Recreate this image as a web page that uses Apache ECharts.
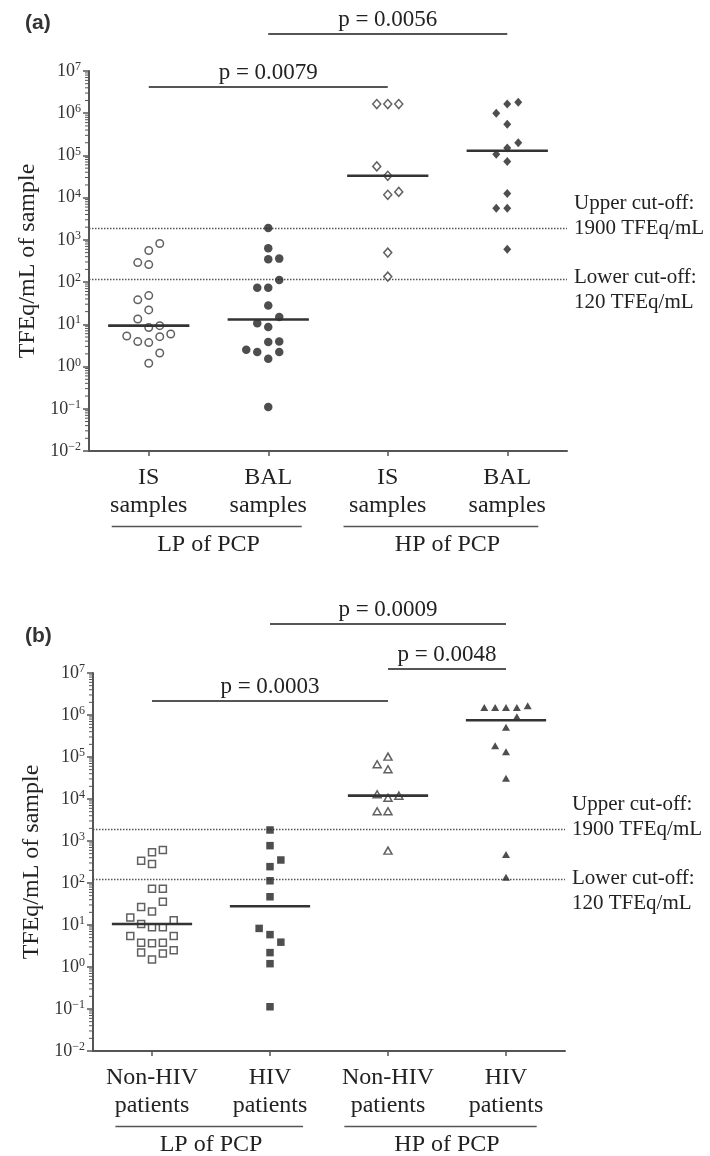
<!DOCTYPE html>
<html><head><meta charset="utf-8">
<script src="https://cdn.jsdelivr.net/npm/echarts@6/dist/echarts.min.js"></script>
<style>html,body{margin:0;padding:0;background:#fff}#c{width:710px;height:1156px}</style>
</head><body><div id="c"></div>
<script>
// ---------- DATA ----------
const categoriesA = ['IS\nsamples', 'BAL\nsamples', 'IS\nsamples', 'BAL\nsamples'];
const categoriesB = ['Non-HIV\npatients', 'HIV\npatients', 'Non-HIV\npatients', 'HIV\npatients'];
const groupLabels = ['LP of PCP', 'HP of PCP'];
const yAxisName = 'TFEq/mL of sample';
const cutoffValues = [1900, 120];
const cutoffLabels = [['Upper cut-off:', '1900 TFEq/mL'], ['Lower cut-off:', '120 TFEq/mL']];
const decadeExponents = [-2, -1, 0, 1, 2, 3, 4, 5, 6];
const minorMultipliers = [2, 3, 4, 5, 6, 7, 8, 9];

// Panel (a)
const aIsLP   = [820, 560, 290, 260, 38, 48, 22, 13.4, 8.4, 9.3, 5.3, 3.9, 3.7, 5.1, 5.9, 2.1, 1.2];
const aIsLPcol = [1, 0, -1, 0, -1, 0, 0, -1, 0, 1, -2, -1, 0, 1, 2, 1, 0];
const aBalLP  = [1900, 635, 350, 360, 112, 74, 74, 28, 15, 10.6, 8.7, 3.8, 3.9, 2.5, 2.2, 2.2, 1.54, 0.11];
const aBalLPcol = [0, 0, 0, 1, 1, -1, 0, 0, 1, -1, 0, 0, 1, -2, -1, 1, 0, 0];
const aIsHP   = [1.65e6, 1.65e6, 1.65e6, 5.5e4, 3.3e4, 1.17e4, 1.37e4, 500, 135];
const aIsHPcol = [-1, 0, 1, -1, 0, 0, 1, 0, 0];
const aBalHP  = [1.83e6, 1.65e6, 1.0e6, 5.5e5, 2.0e5, 1.5e5, 1.07e5, 7.2e4, 1.25e4, 5.6e3, 5.6e3, 600];
const aBalHPcol = [1, 0, -1, 0, 1, 0, -1, 0, 0, -1, 0, 0];
const aMedians = [9.3, 13, 3.3e4, 1.29e5];
const aSigPairs = [[1, 3], [2, 4]];
const aSigLabels = ['p = 0.0079', 'p = 0.0056'];

// Panel (b)
const bNonHivLP = [610, 540, 340, 285, 73, 73, 36, 27, 21, 15, 13, 10.6, 8.8, 8.9, 5.5, 5.5, 3.8, 3.7, 3.8, 2.5, 2.2, 2.1, 1.5];
const bNonHivLPcol = [1, 0, -1, 0, 0, 1, 1, -1, 0, -2, 2, -1, 0, 1, -2, 2, -1, 0, 1, 2, -1, 1, 0];
const bHivLP = [1830, 775, 353, 245, 113, 47, 8.3, 5.9, 3.9, 2.2, 1.2, 0.113];
const bHivLPcol = [0, 0, 1, 0, 0, 0, -1, 0, 1, 0, 0, 0];
const bNonHivHP = [1.02e5, 6.7e4, 5.1e4, 1.3e4, 1.07e4, 1.2e4, 5.1e3, 5.1e3, 590];
const bNonHivHPcol = [0, -1, 0, -1, 0, 1, -1, 0, 0];
const bHivHP = [1.5e6, 1.5e6, 1.5e6, 1.5e6, 1.66e6, 9.1e5, 5.1e5, 1.86e5, 1.34e5, 3.1e4, 480, 137];
const bHivHPcol = [-2, -1, 0, 1, 2, 1, 0, -1, 0, 0, 0, 0];
const bMedians = [10.6, 28, 1.2e4, 7.5e5];
const bSigPairs = [[1, 3], [2, 4], [3, 4]];
const bSigLabels = ['p = 0.0003', 'p = 0.0009', 'p = 0.0048'];

// ---------- LAYOUT / STYLE ----------
const SERIF = '"Liberation Serif","Times New Roman",serif';
const SANS = '"Liberation Sans",Arial,sans-serif';
const AX = '#555', TXT = '#222';
const grids = [
  { left: 89, top: 71, width: 478, height: 380 },
  { left: 93, top: 673, width: 472, height: 378 }
];
const colStep = 0.092;
const medianHalf = 0.34;
const sigOffsets = [[16, -37], [28, -49, -4]];   // px from grid top
const titleTops = [13, 626];
const underlineSpans = [[0.69, 2.28], [2.63, 4.26]];

function pts(vals, cols, g) { return vals.map((v, i) => [g + cols[i] * colStep, v]); }

const openStyle = { color: '#fff', borderColor: '#3a3a3a', borderWidth: 1.5 };
const fillStyle = { color: '#222' };

function scatter(name, data, gi, symbol, size, style, withCut) {
  const s = {
    type: 'scatter', name, data, xAxisIndex: gi * 2 + 1, yAxisIndex: gi,
    symbol, symbolSize: size, itemStyle: style, z: 5, silent: true
  };
  if (withCut) {
    s.markLine = {
      silent: true, symbol: 'none', label: { show: false },
      lineStyle: { type: [1.5, 1.5], color: '#555', width: 1.4 },
      data: cutoffValues.map(v => ({ yAxis: v }))
    };
  }
  return s;
}
function medianSeries(meds, gi) {
  return {
    type: 'custom', xAxisIndex: gi * 2 + 1, yAxisIndex: gi, z: 6, silent: true,
    data: meds.map((m, i) => [i + 1, m]),
    renderItem: (params, api) => {
      const x = api.value(0), y = api.value(1);
      const p1 = api.coord([x - medianHalf, y]), p2 = api.coord([x + medianHalf, y]);
      return { type: 'line', shape: { x1: p1[0], y1: p1[1], x2: p2[0], y2: p2[1] },
               style: { stroke: '#333', lineWidth: 2.6 } };
    }
  };
}

function catAxis(cats, gi) {
  return {
    type: 'category', gridIndex: gi, data: cats, boundaryGap: true, position: 'bottom',
    axisLine: { show: true, lineStyle: { color: AX, width: 2 } },
    axisTick: { show: true, alignWithLabel: true, length: 5, lineStyle: { color: AX, width: 1.5 } },
    axisLabel: { interval: 0, margin: 13, fontSize: 24, lineHeight: 28, fontFamily: SERIF, color: TXT },
    splitLine: { show: false }
  };
}
function valXAxis(gi) {
  return { type: 'value', gridIndex: gi, min: 0.5, max: 4.5, show: false, position: 'bottom' };
}
function logYAxis(gi) {
  return {
    type: 'log', logBase: 10, gridIndex: gi, min: 0.01, max: 1e7, splitNumber: 9,
    name: yAxisName, nameLocation: 'middle', nameGap: 47,
    nameTextStyle: { fontSize: 24, fontFamily: SERIF, color: TXT },
    axisLine: { show: true, lineStyle: { color: AX, width: 2 } },
    axisTick: { show: true, length: 6, lineStyle: { color: AX, width: 1.5 } },
    splitLine: { show: false },
    axisLabel: {
      margin: 8,
      formatter: v => {
        const e = Math.round(Math.log10(v));
        return '{b|10}{s|' + (e < 0 ? '\u2212' + (-e) : e) + '}';
      },
      rich: {
        b: { fontSize: 18, fontFamily: SERIF, color: '#333', lineHeight: 20 },
        s: { fontSize: 12, fontFamily: SERIF, color: '#333', lineHeight: 12, verticalAlign: 'top' }
      }
    }
  };
}

const chart = echarts.init(document.getElementById('c'));
chart.setOption({
  animation: false,
  backgroundColor: '#fff',
  grid: grids.map(g => Object.assign({ containLabel: false }, g)),
  xAxis: [catAxis(categoriesA, 0), valXAxis(0), catAxis(categoriesB, 1), valXAxis(1)],
  yAxis: [logYAxis(0), logYAxis(1)],
  series: [
    scatter('IS LP', pts(aIsLP, aIsLPcol, 1), 0, 'circle', 7.5, openStyle, true),
    scatter('BAL LP', pts(aBalLP, aBalLPcol, 2), 0, 'circle', 8.5, fillStyle),
    scatter('IS HP', pts(aIsHP, aIsHPcol, 3), 0, 'diamond', [8, 9], openStyle),
    scatter('BAL HP', pts(aBalHP, aBalHPcol, 4), 0, 'diamond', [8, 9], fillStyle),
    medianSeries(aMedians, 0),
    scatter('Non-HIV LP', pts(bNonHivLP, bNonHivLPcol, 1), 1, 'rect', 7, openStyle, true),
    scatter('HIV LP', pts(bHivLP, bHivLPcol, 2), 1, 'rect', 7.5, fillStyle),
    scatter('Non-HIV HP', pts(bNonHivHP, bNonHivHPcol, 3), 1, 'triangle', [8, 7], openStyle),
    scatter('HIV HP', pts(bHivHP, bHivHPcol, 4), 1, 'triangle', [8, 7], fillStyle),
    medianSeries(bMedians, 1)
  ]
});

// ---------- annotations positioned through the axes ----------
const graphics = [];
const panels = [
  { pairs: aSigPairs, labels: aSigLabels, title: '(a)' },
  { pairs: bSigPairs, labels: bSigLabels, title: '(b)' }
];
panels.forEach((p, gi) => {
  const g = grids[gi];
  const px = x => chart.convertToPixel({ xAxisIndex: gi * 2 + 1 }, x);
  const py = y => chart.convertToPixel({ yAxisIndex: gi }, y);
  const bottom = g.top + g.height, right = g.left + g.width;
  // title
  graphics.push({ type: 'text', left: 25, top: titleTops[gi],
    style: { text: p.title, font: 'bold 21px ' + SANS, fill: '#333' } });
  // log-spaced minor ticks
  decadeExponents.forEach(e => {
    minorMultipliers.forEach(m => {
      const y = py(m * Math.pow(10, e));
      graphics.push({ type: 'line', shape: { x1: g.left - 4, y1: y, x2: g.left, y2: y },
        style: { stroke: AX, lineWidth: 1 } });
    });
  });
  // significance bars
  p.pairs.forEach((pr, k) => {
    const y = g.top + sigOffsets[gi][k];
    const x1 = px(pr[0]), x2 = px(pr[1]);
    graphics.push({ type: 'line', shape: { x1, y1: y, x2, y2: y }, style: { stroke: AX, lineWidth: 2 } });
    graphics.push({ type: 'text', x: (x1 + x2) / 2, y: y - 14,
      style: { text: p.labels[k], font: '23px ' + SERIF, fill: TXT, textAlign: 'center', textVerticalAlign: 'middle' } });
  });
  // group underlines & labels
  groupLabels.forEach((lab, k) => {
    const sp = underlineSpans[k];
    graphics.push({ type: 'line', shape: { x1: px(sp[0]), y1: bottom + 75.5, x2: px(sp[1]), y2: bottom + 75.5 },
      style: { stroke: AX, lineWidth: 1.6 } });
    graphics.push({ type: 'text', x: px(2 * k + 1.5), y: bottom + 94,
      style: { text: lab, font: '24px ' + SERIF, fill: TXT, textAlign: 'center', textVerticalAlign: 'middle' } });
  });
  // cut-off labels
  cutoffValues.forEach((v, k) => {
    const y = py(v);
    const cy = k === 0 ? y - 12 : y + 11;
    graphics.push({ type: 'text', x: right + 7, y: cy,
      style: { text: cutoffLabels[k].join('\n'), font: '21px ' + SERIF, lineHeight: 25, fill: TXT,
               textAlign: 'left', textVerticalAlign: 'middle' } });
  });
});
chart.setOption({ graphic: graphics });
</script>
</body></html>
